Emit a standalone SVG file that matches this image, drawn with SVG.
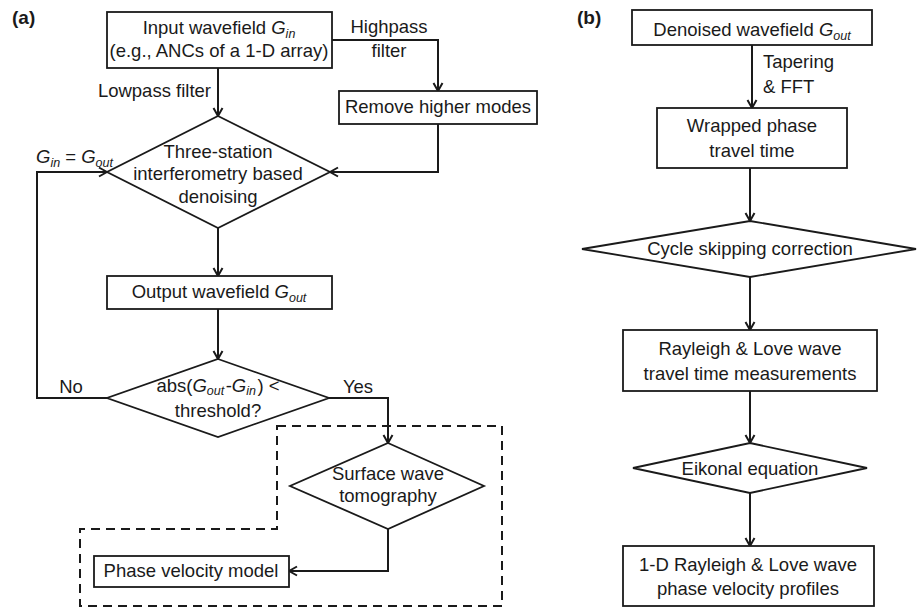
<svg xmlns="http://www.w3.org/2000/svg" width="918" height="609" viewBox="0 0 918 609">
<defs>
<style>
text{font-family:"Liberation Sans",Arial,sans-serif;font-size:18.5px;fill:#1a1a1a}
.lbl{font-weight:bold;font-size:19px}
.c{text-anchor:middle}
.it{font-style:italic}
.sub{font-style:italic;font-size:12.5px}
.node rect,.node polygon{fill:#fff;stroke:#1a1a1a;stroke-width:1.8}
.conn path{fill:none;stroke:#1a1a1a;stroke-width:2}
.dash{fill:none;stroke:#1a1a1a;stroke-width:2;stroke-dasharray:9 6}
</style>
<marker id="arr" viewBox="0 0 12 12" refX="11" refY="6" markerWidth="12" markerHeight="12" markerUnits="userSpaceOnUse" orient="auto">
<path d="M3,1.5 L11,6 L3,10.5" fill="none" stroke="#1a1a1a" stroke-width="2"/>
</marker>
</defs>
<rect width="918" height="609" fill="#fff"/>
<text class="lbl" x="12" y="24">(a)</text>
<text class="lbl" x="577" y="24">(b)</text>

<path class="dash" d="M277,426 H502 V606 H80 V529 H277 Z"/>

<g class="conn">
<path d="M218,68 V116" marker-end="url(#arr)"/>
<path d="M332,40 H438 V91" marker-end="url(#arr)"/>
<path d="M438,124 V172 H330" marker-end="url(#arr)"/>
<path d="M218,228 V276" marker-end="url(#arr)"/>
<path d="M218,309 V359" marker-end="url(#arr)"/>
<path d="M107,398 H37 V172 H107" marker-end="url(#arr)"/>
<path d="M329,398 H388 V443" marker-end="url(#arr)"/>
<path d="M388,529 V571 H289" marker-end="url(#arr)"/>
<path d="M752,45 V108" marker-end="url(#arr)"/>
<path d="M750,168 V221" marker-end="url(#arr)"/>
<path d="M750,277 V330" marker-end="url(#arr)"/>
<path d="M750,391 V443" marker-end="url(#arr)"/>
<path d="M750,493 V546" marker-end="url(#arr)"/>
</g>

<g id="labels">
<text x="211" y="97" text-anchor="end">Lowpass filter</text>
<text class="c" x="389" y="33">Highpass</text>
<text class="c" x="389" y="57">filter</text>
<text x="36" y="163"><tspan class="it">G</tspan><tspan class="sub" dy="4">in</tspan><tspan dy="-4"> = </tspan><tspan class="it">G</tspan><tspan class="sub" dy="4">out</tspan></text>
<text class="c" x="71" y="393">No</text>
<text class="c" x="358" y="393">Yes</text>
<text x="763" y="68">Tapering</text>
<text x="763" y="93">&amp; FFT</text>
</g>

<g id="input" class="node">
<rect x="107" y="12" width="225" height="56"/>
<text class="c" x="219" y="34">Input wavefield <tspan class="it">G</tspan><tspan class="sub" dy="4">in</tspan></text>
<text class="c" x="219" y="57">(e.g., ANCs of a 1-D array)</text>
</g>
<g id="remove" class="node">
<rect x="339" y="91" width="198" height="33"/>
<text class="c" x="438" y="113">Remove higher modes</text>
</g>
<g id="denoise" class="node">
<polygon points="218,116 330,172 218,228 107,172"/>
<text class="c" x="218" y="158">Three-station</text>
<text class="c" x="218" y="180">interferometry based</text>
<text class="c" x="218" y="203">denoising</text>
</g>
<g id="output" class="node">
<rect x="107" y="276" width="225" height="33"/>
<text class="c" x="219" y="298">Output wavefield <tspan class="it">G</tspan><tspan class="sub" dy="4">out</tspan></text>
</g>
<g id="threshold" class="node">
<polygon points="218,359 329,398 218,437 107,398"/>
<text class="c" x="218" y="392">abs(<tspan class="it">G</tspan><tspan class="sub" dy="3">out</tspan><tspan dx="1.5" dy="-3">-</tspan><tspan class="it">G</tspan><tspan class="sub" dy="3">in</tspan><tspan dx="1.5" dy="-3">) &lt;</tspan></text>
<text class="c" x="218" y="417">threshold?</text>
</g>
<g id="tomography" class="node">
<polygon points="388,443 484,486 388,529 290,486"/>
<text class="c" x="388" y="480">Surface wave</text>
<text class="c" x="388" y="502">tomography</text>
</g>
<g id="phasemodel" class="node">
<rect x="94" y="556" width="195" height="31"/>
<text class="c" x="191" y="577">Phase velocity model</text>
</g>

<g id="denoised" class="node">
<rect x="632" y="10" width="240" height="35"/>
<text class="c" x="752" y="36">Denoised wavefield <tspan class="it">G</tspan><tspan class="sub" dy="4">out</tspan></text>
</g>
<g id="wrapped" class="node">
<rect x="657" y="108" width="190" height="60"/>
<text class="c" x="752" y="132">Wrapped phase</text>
<text class="c" x="752" y="157">travel time</text>
</g>
<g id="cycle" class="node">
<polygon points="750,221 916,249 750,277 582,249"/>
<text class="c" x="750" y="255">Cycle skipping correction</text>
</g>
<g id="rayleigh" class="node">
<rect x="623" y="330" width="254" height="61"/>
<text class="c" x="750" y="355">Rayleigh &amp; Love wave</text>
<text class="c" x="750" y="380">travel time measurements</text>
</g>
<g id="eikonal" class="node">
<polygon points="750,443 867,468 750,493 633,468"/>
<text class="c" x="750" y="475">Eikonal equation</text>
</g>
<g id="profiles" class="node">
<rect x="623" y="546" width="251" height="60"/>
<text class="c" x="748" y="571">1-D Rayleigh &amp; Love wave</text>
<text class="c" x="748" y="595">phase velocity profiles</text>
</g>
</svg>
